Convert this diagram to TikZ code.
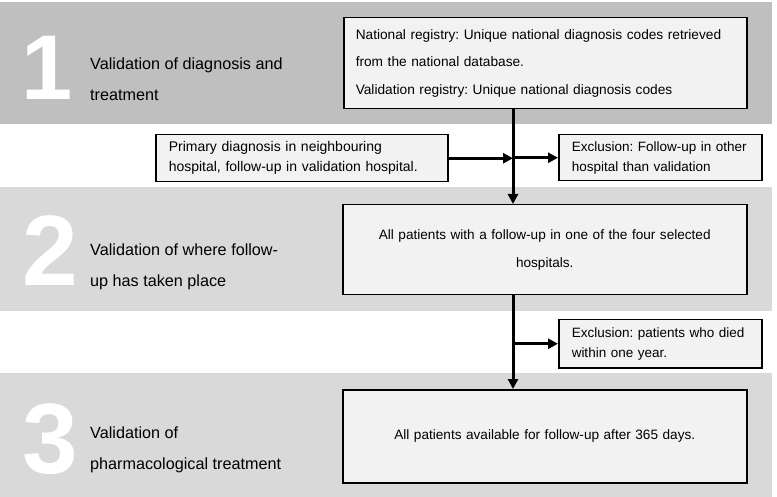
\documentclass[tikz,border=0pt]{standalone}
\usepackage{fontspec}
\setmainfont{Liberation Sans}
\usetikzlibrary{arrows.meta}
\definecolor{bandA}{RGB}{191,191,191}
\definecolor{bandB}{RGB}{217,217,217}
\definecolor{boxfill}{RGB}{242,242,242}
\tikzset{
  stepbox/.style={draw=black, line width=1.5pt, fill=boxfill, inner ysep=0pt, inner xsep=12pt},
  conn/.style={line width=3pt, -{Triangle[length=10pt,width=10pt]}},
  bignum/.style={text=white, font=\fontsize{100}{100}\selectfont\bfseries, inner sep=0pt},
  title/.style={anchor=west, align=left, inner sep=0pt, font=\fontsize{16.2}{31}\selectfont},
}
\begin{document}
\frenchspacing
\begin{tikzpicture}[x=1pt,y=-1pt]
\useasboundingbox (0,0) rectangle (777,497);
% bands
\fill[bandA] (0,2) rectangle (772,124);
\fill[bandB] (0,187) rectangle (772,311);
\fill[bandB] (0,373) rectangle (772,497);
% big numbers
\node[bignum, font=\fontsize{92}{92}\selectfont\bfseries] (n1) at (47,68) {1};
\node[bignum] (n2) at (50,251) {2};
\node[bignum] (n3) at (50,439) {3};
% titles
\node[title] (t1) at (90,79) {Validation of diagnosis and\\treatment};
\node[title] (t2) at (90,267) {Validation of where follow-\\up has taken place};
\node[title] (t3) at (90,450) {Validation of\\pharmacological treatment};
% boxes
\node[stepbox, anchor=north west, text width=379pt, minimum height=91pt, align=left,
      font=\fontsize{13.7}{27.5}\selectfont] (b1) at (343,17)
  {National registry: Unique national diagnosis codes retrieved\\from the national database.\\Validation registry: Unique national diagnosis codes};
\node[stepbox, anchor=north west, text width=266pt, minimum height=47pt, align=left,
      inner xsep=13pt, font=\fontsize{14}{20}\selectfont] (p) at (155,134)
  {Primary diagnosis in neighbouring\\hospital, follow-up in validation hospital.};
\node[stepbox, anchor=north west, text width=177pt, minimum height=46pt, align=left,
      inner xsep=13pt, font=\fontsize{13.5}{20}\selectfont] (e1) at (558,134)
  {Exclusion: Follow-up in other\\hospital than validation};
\node[stepbox, anchor=north west, text width=380pt, minimum height=90pt, align=center,
      font=\fontsize{13.6}{28}\selectfont] (b2) at (342,204)
  {All patients with a follow-up in one of the four selected\hspace*{14pt}\\hospitals.};
\node[stepbox, anchor=north west, text width=177pt, minimum height=48pt, align=left,
      inner xsep=13pt, font=\fontsize{13.5}{20}\selectfont] (e2) at (558,319)
  {Exclusion: patients who died\\within one year.};
\node[stepbox, anchor=north west, text width=380pt, minimum height=93pt, align=center,
      font=\fontsize{13.6}{20}\selectfont] (b3) at (342,389)
  {All patients available for follow-up after 365 days.\hspace*{10pt}};
% connectors
\coordinate (v) at (513,0);
\draw[conn] (b1.south -| v) -- (b2.north -| v);
\draw[conn] (p.east) -- (p.east -| v);
\draw[conn] (e1.west -| v) -- (e1.west);
\draw[conn] (b2.south -| v) -- (b3.north -| v);
\draw[conn] (e2.west -| v) -- (e2.west);
\end{tikzpicture}
\end{document}
